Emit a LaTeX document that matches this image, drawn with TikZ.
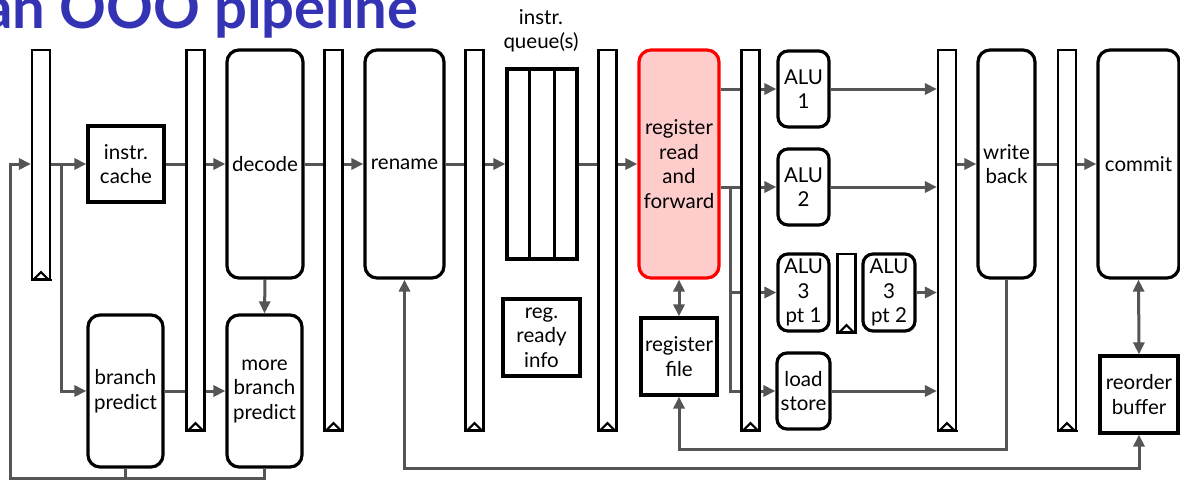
\documentclass[tikz,border=0pt]{standalone}
\usepackage{fontspec}
\setmainfont{Lato}
\usetikzlibrary{arrows.meta,calc}
\pgfdeclarelayer{bg}
\pgfsetlayers{bg,main}
\definecolor{titleblue}{RGB}{51,51,179}
\definecolor{connc}{RGB}{85,85,85}
\definecolor{rrfill}{RGB}{255,204,204}
\begin{document}
\begin{tikzpicture}[x=1pt,y=-1pt,
  every node/.style={font=\fontsize{20.5}{24.5}\selectfont},
  box/.style={draw, line width=3.2pt, align=center, inner sep=0pt},
  rbox/.style={box, rounded corners=12pt},
  sbox/.style={box, rounded corners=10pt},
  preg/.style={draw, line width=2.2pt, fill=white, minimum width=18pt, inner sep=0pt},
  conn/.style={draw=connc, line width=3pt},
  arr/.style={conn, -{Triangle[length=12pt,width=11pt]}},
  darr/.style={conn, {Triangle[length=12pt,width=11pt]}-{Triangle[length=12pt,width=11pt]}},
  clk/.style={line width=2.2pt}
]
\useasboundingbox (0,0) rectangle (1180,479);
\clip (0,0) rectangle (1180,479);

% title
\node[anchor=base west, text=titleblue, inner sep=0pt,
      font=\fontsize{58}{66}\selectfont\bfseries] (title) at (-17,28) {an OOO pipeline};

% pipeline registers
\node[preg, minimum height=229pt] (r1) at (41,164.5) {};
\node[preg, minimum height=380pt] (r2) at (195.5,240) {};
\node[preg, minimum height=380pt] (r3) at (333.5,240) {};
\node[preg, minimum height=380pt] (r4) at (474.5,240) {};
\node[preg, minimum height=380pt] (r5) at (607.5,240) {};
\node[preg, minimum height=380pt] (r6) at (750.5,240) {};
\node[preg, minimum height=380pt] (r7) at (947,240) {};
\node[preg, minimum height=380pt] (r8) at (1067,240) {};
\node[preg, minimum height=78pt] (r9) at (846.5,293) {};
\foreach \r in {r1,r2,r3,r4,r5,r6,r7,r8,r9}{
  \draw[clk] ($(\r.south)+(-8,0)$) -- ++(8,-8) -- ++(8,8);
  \draw[clk] ($(\r.south)+(-10.5,0)$) -- ++(21,0);
}

% stages
\node[box, minimum width=76pt, minimum height=76pt] (cache) at (126,164) {instr.\\cache};
\node[rbox, minimum width=76pt, minimum height=228pt] (decode) at (265,164) {decode};
\node[rbox, minimum width=79pt, minimum height=228pt] (rename) at (404.5,164) {rename};
\node[rbox, minimum width=75pt, minimum height=152pt] (bp) at (125.5,391) {branch\\predict};
\node[rbox, minimum width=75pt, minimum height=152pt] (mbp) at (264.5,391) {more\\branch\\predict};
\node[box, minimum width=70pt, minimum height=190pt] (queue) at (542,164) {};
\draw[line width=3.2pt] ($(queue.north west)!1/3!(queue.north east)$) -- ($(queue.south west)!1/3!(queue.south east)$);
\draw[line width=3.2pt] ($(queue.north west)!2/3!(queue.north east)$) -- ($(queue.south west)!2/3!(queue.south east)$);
\node[align=center, inner sep=0pt] (qlabel) at (541,31) {instr.\\queue(s)};
\node[box, minimum width=77pt, minimum height=77pt] (ready) at (541.5,337.5) {reg.\\ready\\info};
\node[rbox, draw=red, fill=rrfill, minimum width=80pt, minimum height=228pt] (rr) at (679,164) {register\\read\\and\\forward};
\node[box, minimum width=76pt, minimum height=77pt] (rf) at (679,356.5) {register\\file};
\node[sbox, minimum width=51pt, minimum height=76pt] (alu1) at (803.5,89) {ALU\\1};
\node[sbox, minimum width=51pt, minimum height=76pt] (alu2) at (803.5,187) {ALU\\2};
\node[sbox, minimum width=51pt, minimum height=77pt] (alu3a) at (803.5,292.5) {ALU\\3\\pt 1};
\node[sbox, minimum width=52pt, minimum height=77pt] (alu3b) at (889,292.5) {ALU\\3\\pt 2};
\node[sbox, minimum width=53pt, minimum height=76pt] (ls) at (803.5,391) {load\\store};
\node[rbox, minimum width=57pt, minimum height=228pt] (wb) at (1006.5,164) {write\\back};
\node[rbox, minimum width=81pt, minimum height=228pt] (commit) at (1138.5,164) {commit};
\node[box, minimum width=78pt, minimum height=77pt] (rob) at (1139,394.5) {reorder\\buffer};

\coordinate (loopL) at (10,478);
\coordinate (split1) at (61,164);
\coordinate (split2) at (730,187);
\coordinate (wbc) at (679,449);
\coordinate (loopR) at (700,468);

\begin{pgfonlayer}{bg}
  \draw[arr] (mbp.south) |- (loopL) |- (r1.west |- split1);
  \draw[conn] (bp.south) -- (bp.south |- loopL);
  \draw[arr] (r1.east |- split1) -- (cache.west);
  \draw[arr] (split1) |- (bp.west);
  \draw[arr] (cache.east) -- (decode.west);
  \draw[arr] (decode.east) -- (rename.west);
  \draw[arr] (rename.east) -- (queue.west);
  \draw[arr] (queue.east) -- (rr.west);
  \draw[arr] (decode.south) -- (mbp.north);
  \draw[arr] (bp.east) -- (mbp.west);
  \draw[darr] (rr.south) -- (rf.north);
  \draw[arr] (rr.east |- alu1.west) -- (alu1.west);
  \draw[arr] (rr.east |- alu2.west) -- (alu2.west);
  \draw[arr] (split2) |- (alu3a.west);
  \draw[arr] (split2) |- (ls.west);
  \draw[arr] (alu1.east) -- (alu1.east -| r7.west);
  \draw[arr] (alu2.east) -- (alu2.east -| r7.west);
  \draw[arr] (alu3b.east) -- (alu3b.east -| r7.west);
  \draw[arr] (ls.east) -- (ls.east -| r7.west);
  \draw[arr] (wb.west -| r7.east) -- (wb.west);
  \draw[arr] (wb.east) -- (commit.west);
  \draw[darr] (commit.south) -- (rob.north);
  \draw[arr] (wb.south) |- (wbc) -- (rf.south);
  \draw[darr] (rename.south) |- (loopR) -| (rob.south);
\end{pgfonlayer}
\end{tikzpicture}
\end{document}
